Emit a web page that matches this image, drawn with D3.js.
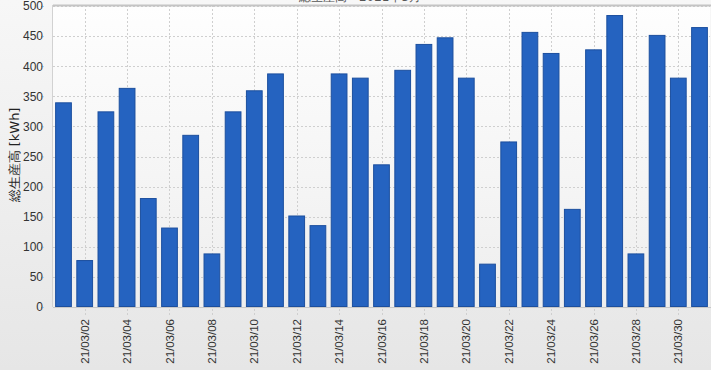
<!DOCTYPE html>
<html>
<head>
<meta charset="utf-8">
<script src="https://cdn.jsdelivr.net/npm/d3@7"></script>
<style>
  body { margin: 0; background: #ececec; }
  svg { display: block; font-family: "DejaVu Sans", sans-serif; }
</style>
</head>
<body>
<div id="container"></div>
<script>
/* DATA */
const days = d3.range(1, 32).map(d => "21/03/" + String(d).padStart(2, "0"));
const production = [340, 78, 325, 364, 181, 132, 286, 89, 325, 360, 388, 152, 136, 388, 381, 237,
  394, 437, 448, 381, 72, 275, 457, 422, 163, 428, 485, 89, 452, 381, 465];
const yTicks = [0, 50, 100, 150, 200, 250, 300, 350, 400, 450, 500];
const title = "総生産高 - 2021年3月";
const yTitle = "総生産高 [kWh]";

/* CONSTANTS */
const width = 711, height = 370,
  margin = { top: 5, right: 1, bottom: 63, left: 53 };

const data = days.map((d, i) => ({ day: d, value: production[i] }));

const svg = d3.select("#container").append("svg")
  .attr("width", width)
  .attr("height", height);

const defs = svg.append("defs");
const bgGrad = defs.append("linearGradient").attr("id", "bg").attr("x1", 0).attr("x2", 0).attr("y1", 0).attr("y2", 1);
bgGrad.append("stop").attr("offset", "0%").attr("stop-color", "#f7f7f7");
bgGrad.append("stop").attr("offset", "100%").attr("stop-color", "#e6e6e6");
const plotGrad = defs.append("linearGradient").attr("id", "plotbg").attr("x1", 0).attr("x2", 0).attr("y1", 0).attr("y2", 1);
plotGrad.append("stop").attr("offset", "0%").attr("stop-color", "#fefefe");
plotGrad.append("stop").attr("offset", "100%").attr("stop-color", "#eeeeee");

svg.append("rect").attr("width", width).attr("height", height).attr("fill", "url(#bg)");

// SCALES
const xScale = d3.scaleBand()
  .domain(days)
  .range([margin.left, width - margin.right])
  .paddingInner(0.21)
  .paddingOuter(0.1);

const yScale = d3.scaleLinear()
  .domain([0, 500])
  .range([height - margin.bottom, margin.top + 1]);

// plot area
svg.append("rect")
  .attr("x", margin.left)
  .attr("y", margin.top)
  .attr("width", width - margin.right - margin.left)
  .attr("height", height - margin.bottom - margin.top)
  .attr("fill", "url(#plotbg)");

// grid
const labelled = days.filter((d, i) => i % 2 === 1);

svg.append("g")
  .selectAll("line")
  .data(yTicks.slice(1))
  .join("line")
  .attr("x1", margin.left)
  .attr("x2", width - margin.right)
  .attr("y1", d => Math.round(yScale(d)) + 0.5)
  .attr("y2", d => Math.round(yScale(d)) + 0.5)
  .attr("stroke", "#cfcfcf")
  .attr("stroke-dasharray", "2,2");

svg.append("g")
  .selectAll("line")
  .data(labelled)
  .join("line")
  .attr("x1", d => Math.round(xScale(d) + xScale.bandwidth() / 2) + 0.5)
  .attr("x2", d => Math.round(xScale(d) + xScale.bandwidth() / 2) + 0.5)
  .attr("y1", margin.top)
  .attr("y2", height - margin.bottom + 9)
  .attr("stroke", "#cfcfcf")
  .attr("stroke-dasharray", "2,2");

// border
svg.append("line")
  .attr("x1", margin.left).attr("x2", width)
  .attr("y1", margin.top + 0.5).attr("y2", margin.top + 0.5)
  .attr("stroke", "#c4c4c4").attr("stroke-width", 2);
svg.append("line")
  .attr("x1", margin.left - 0.5).attr("x2", margin.left - 0.5)
  .attr("y1", margin.top).attr("y2", height - margin.bottom)
  .attr("stroke", "#d2d2d2");

// BARS
svg.append("g")
  .selectAll("rect")
  .data(data)
  .join("rect")
  .attr("x", d => xScale(d.day) + 0.5)
  .attr("y", d => yScale(d.value) + 0.5)
  .attr("width", xScale.bandwidth() - 1)
  .attr("height", d => yScale(0) - yScale(d.value) - 1)
  .attr("fill", "#2563c0")
  .attr("stroke", "#1c4f9e")
  .attr("stroke-width", 1);

// bottom axis line
svg.append("line")
  .attr("x1", margin.left).attr("x2", width)
  .attr("y1", height - margin.bottom + 0.5).attr("y2", height - margin.bottom + 0.5)
  .attr("stroke", "#c8c8c8");

// AXES
const yAxis = d3.axisLeft(yScale).tickValues(yTicks).tickSize(3).tickPadding(10);
const gy = svg.append("g")
  .attr("transform", `translate(${margin.left - 9},0)`)
  .call(yAxis);
gy.select(".domain").remove();
gy.selectAll(".tick line").attr("stroke", "#9fd3f2");
gy.selectAll("text").attr("fill", "#333").style("font-size", "12px").attr("x", -1);

const xAxis = d3.axisBottom(xScale).tickValues(labelled).tickSize(0);
const gx = svg.append("g")
  .attr("transform", `translate(0,${height - margin.bottom})`)
  .call(xAxis);
gx.select(".domain").remove();
gx.selectAll("text")
  .attr("transform", "rotate(-90)")
  .attr("x", -12)
  .attr("y", 0)
  .attr("dy", "0.35em")
  .style("text-anchor", "end")
  .style("font-size", "11.5px")
  .attr("fill", "#333");

// TITLES
svg.append("text")
  .attr("transform", "rotate(-90)")
  .attr("x", -155)
  .attr("y", 19)
  .style("text-anchor", "middle")
  .style("font-size", "13px")
  .attr("fill", "#222")
  .text(yTitle);

svg.append("text")
  .attr("x", 360)
  .attr("y", 1)
  .style("text-anchor", "middle")
  .style("font-size", "12px")
  .attr("fill", "#555")
  .text(title);
</script>
</body>
</html>
